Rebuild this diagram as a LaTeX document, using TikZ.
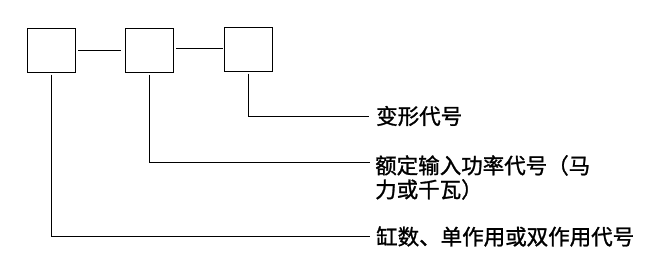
\documentclass[tikz,border=0pt]{standalone}
\usepackage{fontspec}
\newfontfamily\cjk[FakeBold=1.2]{Noto Sans CJK SC}
\usetikzlibrary{positioning}

\begin{document}
\begin{tikzpicture}[
  x=1pt, y=-1pt,
  font=\cjk\fontsize{21.5}{24}\selectfont,
  codebox/.style={draw=black, line width=0.9pt, minimum width=48pt,
                  minimum height=44pt, inner sep=0pt},
  lead/.style={draw=black, line width=0.9pt},
  label/.style={anchor=west, inner sep=0pt, align=left}
]
\useasboundingbox (0,0) rectangle (664,270);

% Kodni okvirji
\node[codebox] (b1) at (51.5,50.2) {};
\node[codebox] (b2) at (149.3,50.2) {};
\node[codebox] (b3) at (248.3,49.3) {};

\draw[lead, shorten <=2.5pt, shorten >=3.5pt] (b1.east) -- (b2.west);
\draw[lead, shorten <=2.5pt, shorten >=1pt] ([yshift=1.5pt]b2.east) -- ([yshift=1.5pt]b2.east -| b3.west);

% Razlage
\node[label] (l3) at (376,116) {变形代号};
\node[label, anchor=north west] (l2) at (375,155) {额定输入功率代号（马\\力或千瓦）};
\node[label] (l1) at (376,236.5) {缸数、单作用或双作用代号};
\coordinate (c2) at (370,162.3);

\draw[lead, shorten <=2pt, shorten >=7pt] (b3.south) |- (l3.west);
\draw[lead, shorten <=2pt] (b2.south) |- (c2);
\draw[lead, shorten <=2pt, shorten >=6pt] (b1.south) |- (l1.west);

\end{tikzpicture}
\end{document}
